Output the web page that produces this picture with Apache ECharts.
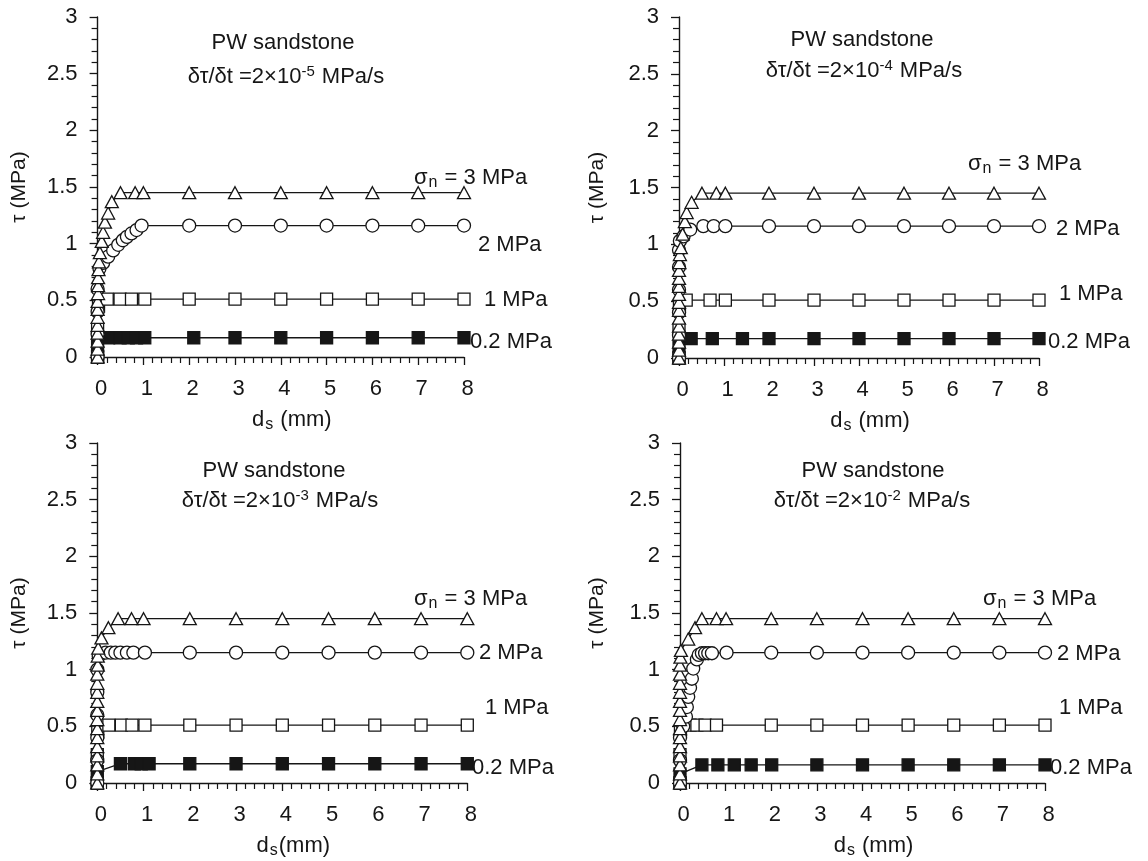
<!DOCTYPE html>
<html><head><meta charset="utf-8">
<script src="https://cdn.jsdelivr.net/npm/echarts@6/dist/echarts.min.js"></script>
<style>html,body{margin:0;padding:0;background:#fff}#c{width:1148px;height:861px}</style>
</head><body><div id="c"></div><script>
// ---------- DATA: [d_s (mm), tau (MPa)] ----------
// Panel A: dtau/dt = 2x10^-5 MPa/s
const a_s3 = [[0,0],[0,0.07],[0,0.14],[0,0.21],[0,0.28],[0,0.35],[0,0.42],[0,0.49],[0.01,0.56],[0.01,0.63],[0.01,0.70],[0.02,0.77],[0.03,0.84],[0.05,0.92],[0.09,1.02],[0.12,1.10],[0.16,1.19],[0.23,1.27],[0.31,1.37],[0.50,1.45],[0.82,1.45],[1.00,1.45],[2,1.45],[3,1.45],[4,1.45],[5,1.45],[6,1.45],[7,1.45],[8,1.45]];
const a_s2 = [[0,0],[0,0.2],[0,0.4],[0,0.6],[0.04,0.78],[0.12,0.83],[0.23,0.885],[0.34,0.94],[0.45,0.99],[0.55,1.03],[0.64,1.06],[0.74,1.09],[0.85,1.12],[0.96,1.16],[2,1.16],[3,1.16],[4,1.16],[5,1.16],[6,1.16],[7,1.16],[8,1.16]];
const a_s1 = [[0,0],[0,0.25],[0.02,0.45],[0.21,0.51],[0.49,0.51],[0.74,0.51],[1.03,0.51],[2,0.51],[3,0.51],[4,0.51],[5,0.51],[6,0.51],[7,0.51],[8,0.51]];
const a_s02 = [[0,0],[0,0.1],[0.24,0.17],[0.49,0.17],[0.67,0.17],[0.85,0.17],[1.03,0.17],[2.1,0.17],[3,0.17],[4,0.17],[5,0.17],[6,0.17],[7,0.17],[8,0.17]];
// Panel B: 2x10^-4 MPa/s
const b_s3 = [[0,0],[0,0.07],[0,0.14],[0,0.21],[0,0.28],[0,0.35],[0,0.42],[0,0.49],[0,0.56],[0,0.63],[0,0.70],[0,0.77],[0.01,0.84],[0.02,0.91],[0.04,0.97],[0.08,1.09],[0.13,1.20],[0.17,1.28],[0.28,1.37],[0.51,1.45],[0.83,1.45],[1.03,1.45],[2,1.45],[3,1.45],[4,1.45],[5,1.45],[6,1.45],[7,1.45],[8,1.45]];
const b_s2 = [[0,0],[0,0.2],[0,0.4],[0,0.6],[0,0.8],[0,0.95],[0.02,1.03],[0.10,1.07],[0.25,1.13],[0.54,1.16],[0.77,1.16],[1.03,1.16],[2,1.16],[3,1.16],[4,1.16],[5,1.16],[6,1.16],[7,1.16],[8,1.16]];
const b_s1 = [[0,0],[0,0.25],[0.01,0.45],[0.16,0.51],[0.69,0.51],[1.03,0.51],[2,0.51],[3,0.51],[4,0.51],[5,0.51],[6,0.51],[7,0.51],[8,0.51]];
const b_s02 = [[0,0],[0,0.1],[0.27,0.17],[0.74,0.17],[1.41,0.17],[2,0.17],[3,0.17],[4,0.17],[5,0.17],[6,0.17],[7,0.17],[8,0.17]];
// Panel C: 2x10^-3 MPa/s
const c_s3 = [[0,0],[0,0.08],[0,0.16],[0,0.24],[0,0.32],[0,0.40],[0,0.48],[0,0.56],[0,0.64],[0,0.72],[0,0.80],[0,0.88],[0,0.96],[0.01,1.04],[0.01,1.12],[0.02,1.19],[0.09,1.28],[0.24,1.37],[0.45,1.45],[0.74,1.45],[1.00,1.45],[2,1.45],[3,1.45],[4,1.45],[5,1.45],[6,1.45],[7,1.45],[8,1.45]];
const c_s2 = [[0,0],[0,0.2],[0,0.4],[0,0.6],[0,0.8],[0,1.0],[0.03,1.12],[0.18,1.15],[0.29,1.15],[0.39,1.15],[0.50,1.15],[0.64,1.15],[0.78,1.15],[1.03,1.15],[2,1.15],[3,1.15],[4,1.15],[5,1.15],[6,1.15],[7,1.15],[8,1.15]];
const c_s1 = [[0,0],[0,0.25],[0.01,0.45],[0.25,0.51],[0.52,0.51],[0.75,0.51],[1.03,0.51],[2,0.51],[3,0.51],[4,0.51],[5,0.51],[6,0.51],[7,0.51],[8,0.51]];
const c_s02 = [[0,0],[0,0.1],[0.50,0.17],[0.80,0.17],[0.95,0.17],[1.12,0.17],[2,0.17],[3,0.17],[4,0.17],[5,0.17],[6,0.17],[7,0.17],[8,0.17]];
// Panel D: 2x10^-2 MPa/s
const d_s3 = [[0,0],[0,0.08],[0,0.16],[0,0.24],[0,0.32],[0,0.40],[0,0.48],[0,0.56],[0,0.64],[0,0.72],[0,0.80],[0,0.88],[0,0.96],[0,1.04],[0.01,1.11],[0.02,1.17],[0.18,1.27],[0.33,1.37],[0.48,1.45],[0.80,1.45],[1.01,1.45],[2,1.45],[3,1.45],[4,1.45],[5,1.45],[6,1.45],[7,1.45],[8,1.45]];
const d_s2 = [[0,0],[0,0.2],[0,0.4],[0.07,0.5],[0.13,0.585],[0.15,0.67],[0.18,0.76],[0.22,0.84],[0.26,0.92],[0.29,1.01],[0.37,1.09],[0.41,1.13],[0.48,1.145],[0.55,1.145],[0.62,1.145],[0.70,1.145],[1.02,1.15],[2,1.15],[3,1.15],[4,1.15],[5,1.15],[6,1.15],[7,1.15],[8,1.15]];
const d_s1 = [[0,0],[0,0.25],[0.01,0.45],[0.22,0.51],[0.37,0.51],[0.55,0.51],[0.80,0.51],[2,0.51],[3,0.51],[4,0.51],[5,0.51],[6,0.51],[7,0.51],[8,0.51]];
const d_s02 = [[0,0],[0,0.08],[0.48,0.16],[0.83,0.16],[1.19,0.16],[1.56,0.16],[2.01,0.16],[3,0.16],[4,0.16],[5,0.16],[6,0.16],[7,0.16],[8,0.16]];

const rateExponents = ['-5', '-4', '-3', '-2'];
const stressLabels = ['0.2 MPa', '1 MPa', '2 MPa', '3 MPa'];
const xNames = ['d{s|s} (mm)', 'd{s|s} (mm)', 'd{s|s}(mm)', 'd{s|s} (mm)'];
const panelData = [[a_s02, a_s1, a_s2, a_s3], [b_s02, b_s1, b_s2, b_s3], [c_s02, c_s1, c_s2, c_s3], [d_s02, d_s1, d_s2, d_s3]];

// ---------- LAYOUT ----------
const FONT = "'Liberation Sans', Arial, sans-serif";
const INK = '#161616';
const grids = [
  {left: 97.6, top: 17, width: 366.4, height: 340},
  {left: 679, top: 17, width: 360, height: 341},
  {left: 97.3, top: 443, width: 370, height: 340},
  {left: 680, top: 443, width: 365, height: 340}
];
const titlePos = [
  {t1: [283, 43], t2: [286, 77]},
  {t1: [862, 40], t2: [864, 71]},
  {t1: [274, 471], t2: [280, 501]},
  {t1: [873, 471], t2: [872, 501]}
];
const labelPos = [
  [[470, 340], [484, 298], [478, 243], [414, 176]],
  [[1048, 340], [1059, 292], [1056, 227], [968, 162]],
  [[472, 766], [485, 706], [479, 651], [414, 597]],
  [[1050, 766], [1059, 706], [1057, 652], [983, 597]]
];
const yNameGap = [68, 71, 68, 72];
const symbols = ['rect', 'rect', 'circle', 'triangle'];
const fills = [INK, '#fff', '#fff', '#fff'];
const sizes = [[12, 12], [12, 12], [13, 13], [13, 12]];

const richSub = {
  s: {fontSize: 16, fontFamily: FONT, color: INK, padding: [10, 1, 0, 1]},
  p: {fontSize: 15, fontFamily: FONT, color: INK, padding: [0, 1, 10, 0]}
};

const option = {
  animation: false,
  backgroundColor: '#fff',
  grid: grids.map(g => Object.assign({containLabel: false}, g)),
  xAxis: grids.map((g, i) => ({
    type: 'value', gridIndex: i, min: 0, max: 8, interval: 1,
    axisLine: {show: true, onZero: false, lineStyle: {color: INK, width: 1.4}},
    axisTick: {show: true, length: 8, lineStyle: {color: INK, width: 1.3}},
    minorTick: {show: true, splitNumber: 5, length: 6, lineStyle: {color: INK, width: 1.2}},
    splitLine: {show: false},
    axisLabel: {fontSize: 22, color: INK, fontFamily: FONT, margin: 21, padding: [0, 0, 0, 7]},
    name: xNames[i], nameLocation: 'middle', nameGap: 50,
    nameTextStyle: {fontSize: 22, color: INK, fontFamily: FONT, padding: [0, 0, 0, 22], rich: richSub}
  })),
  yAxis: grids.map((g, i) => ({
    type: 'value', gridIndex: i, min: 0, max: 3, interval: 0.5,
    axisLine: {show: true, onZero: false, lineStyle: {color: INK, width: 1.4}},
    axisTick: {show: true, length: 8, lineStyle: {color: INK, width: 1.3}},
    minorTick: {show: true, splitNumber: 5, length: 6, lineStyle: {color: INK, width: 1.2}},
    splitLine: {show: false},
    axisLabel: {fontSize: 22, color: INK, fontFamily: FONT, margin: 20},
    name: 'τ (MPa)', nameLocation: 'middle', nameGap: yNameGap[i],
    nameTextStyle: {fontSize: 21, color: INK, fontFamily: FONT}
  })),
  series: [],
  graphic: []
};

panelData.forEach((sets, p) => {
  sets.forEach((data, k) => {
    option.series.push({
      type: 'line', xAxisIndex: p, yAxisIndex: p, data: data, clip: false,
      symbol: symbols[k], symbolSize: sizes[k], showAllSymbol: true,
      lineStyle: {color: INK, width: 1.3},
      itemStyle: {color: fills[k], borderColor: INK, borderWidth: 1.3}
    });
    const lp = labelPos[p][k];
    option.graphic.push({
      type: 'text', left: lp[0], top: lp[1] - 9, z: 100,
      style: {text: k === 3 ? 'σ{s|n} = ' + stressLabels[k] : stressLabels[k],
        font: '22px ' + FONT, fill: INK, rich: richSub}
    });
  });
  const tp = titlePos[p];
  option.graphic.push({
    type: 'text', x: tp.t1[0], y: tp.t1[1], z: 100,
    style: {text: 'PW sandstone', font: '22px ' + FONT, fill: INK, align: 'center', verticalAlign: 'middle'}
  });
  option.graphic.push({
    type: 'text', x: tp.t2[0], y: tp.t2[1], z: 100,
    style: {text: 'δτ/δt =2×10{p|' + rateExponents[p] + '} MPa/s', font: '22px ' + FONT, fill: INK,
      align: 'center', verticalAlign: 'middle', rich: richSub}
  });
});

const chart = echarts.init(document.getElementById('c'), null, {renderer: 'canvas'});
chart.setOption(option);
</script></body></html>
